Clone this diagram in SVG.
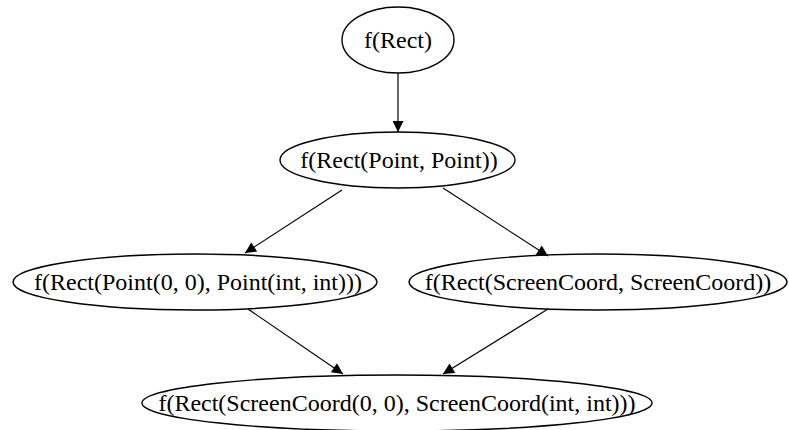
<svg xmlns="http://www.w3.org/2000/svg" width="789" height="430" viewBox="0 0 789 430">
<style>
.node ellipse{fill:none;stroke:#000;stroke-width:1.4}
.node text{font-family:"Liberation Serif","Times New Roman",serif;font-size:24px;fill:#000;text-anchor:middle}
.edges line{stroke:#000;stroke-width:1.2}
</style>
<defs>
<marker id="ah" viewBox="0 0 10 10" refX="10" refY="5" markerWidth="16" markerHeight="11" markerUnits="userSpaceOnUse" orient="auto">
<path d="M0,0 L10,5 L0,10 z" fill="#000"/>
</marker>
</defs>
<rect width="789" height="430" fill="#fff"/>
<g class="edges">
<line x1="398" y1="73" x2="398" y2="132" marker-end="url(#ah)"/>
<line x1="342" y1="190" x2="245" y2="253" marker-end="url(#ah)"/>
<line x1="443" y1="188" x2="548" y2="256" marker-end="url(#ah)"/>
<line x1="248" y1="309" x2="343" y2="374" marker-end="url(#ah)"/>
<line x1="548" y1="309" x2="443" y2="374" marker-end="url(#ah)"/>
</g>
<g id="n1" class="node"><ellipse cx="398" cy="40" rx="56" ry="33"/><text x="398" y="48">f(Rect)</text></g>
<g id="n2" class="node"><ellipse cx="397.5" cy="160" rx="117.5" ry="28"/><text x="399" y="168">f(Rect(Point, Point))</text></g>
<g id="n3" class="node"><ellipse cx="195" cy="282" rx="182" ry="28"/><text x="198" y="290">f(Rect(Point(0, 0), Point(int, int)))</text></g>
<g id="n4" class="node"><ellipse cx="598" cy="282" rx="189" ry="28"/><text x="598" y="290">f(Rect(ScreenCoord, ScreenCoord))</text></g>
<g id="n5" class="node"><ellipse cx="397" cy="403" rx="255" ry="28"/><text x="397" y="411">f(Rect(ScreenCoord(0, 0), ScreenCoord(int, int)))</text></g>
</svg>
